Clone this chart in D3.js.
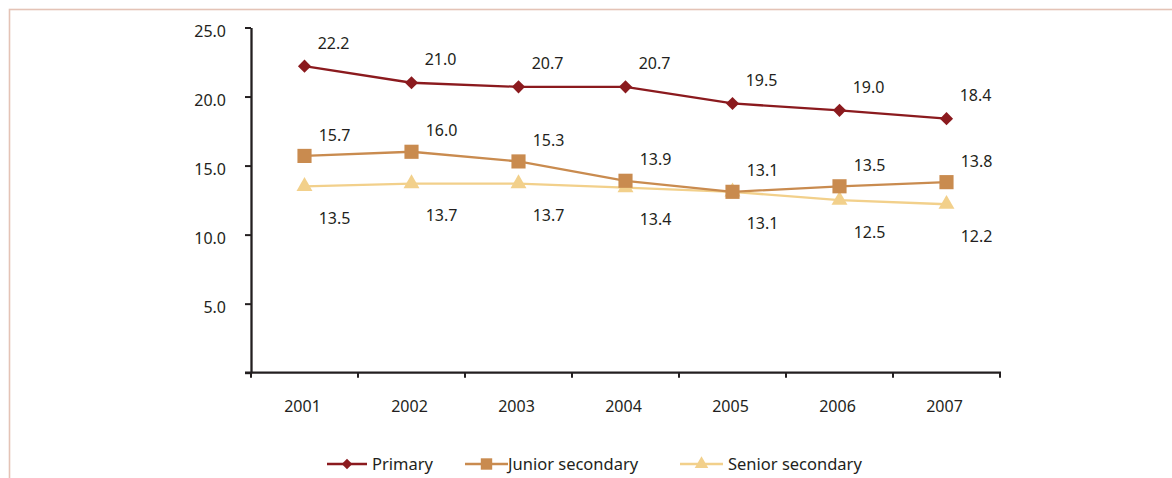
<!DOCTYPE html>
<html>
<head>
<meta charset="utf-8">
<script src="https://cdn.jsdelivr.net/npm/d3@7"></script>
<style>
  html, body { margin: 0; padding: 0; background: #fff; }
  svg { display: block; }
  text { font-family: "Noto Sans", "Open Sans", sans-serif; fill: #231f20; }
</style>
</head>
<body>
<svg id="chart" width="1172" height="478"></svg>
<script>
const years = ["2001", "2002", "2003", "2004", "2005", "2006", "2007"];
const primary = [22.2, 21.0, 20.7, 20.7, 19.5, 19.0, 18.4];
const junior = [15.7, 16.0, 15.3, 13.9, 13.1, 13.5, 13.8];
const senior = [13.5, 13.7, 13.7, 13.4, 13.1, 12.5, 12.2];
const yTicks = [0, 5, 10, 15, 20, 25];
const seriesNames = ["Primary", "Junior secondary", "Senior secondary"];

const colors = ["#8b1a1e", "#c98b4f", "#f2d08b"];
const symbols = [d3.symbolDiamond2 || d3.symbolDiamond, d3.symbolSquare, d3.symbolTriangle];
const markerSizes = [110, 200, 110];
const legendSizes = [70, 130, 80];
const labelOffsets = [[29, -23], [30, -21], [30, 32]];

const svg = d3.select("#chart");

// frame
svg.append("rect")
  .attr("x", 9.5).attr("y", 9.5)
  .attr("width", 1300).attr("height", 600)
  .attr("fill", "none")
  .attr("stroke", "#e4c3b6")
  .attr("stroke-width", 1.6);

const x = d3.scaleBand().domain(years).range([251, 1000]).padding(0);
const y = d3.scaleLinear().domain([0, 25]).range([372.7, 27.5]);

const axisColor = "#231f20";

// Y axis
const yAxis = svg.append("g")
  .attr("transform", "translate(251,0)")
  .call(d3.axisLeft(y).tickValues(yTicks).tickSize(6).tickSizeOuter(0)
    .tickFormat(d => d === 0 ? "" : d3.format(".1f")(d)));
yAxis.select(".domain").attr("stroke", axisColor).attr("stroke-width", 2.3);
yAxis.selectAll(".tick line").attr("stroke", axisColor).attr("stroke-width", 2);
yAxis.selectAll(".tick text")
  .attr("x", -25).attr("dy", "0.32em").attr("y", 4)
  .style("font-size", "16px").attr("fill", axisColor);

// X axis line
const xr = x.range();
svg.append("line")
  .attr("x1", xr[0] - 6).attr("x2", xr[1] + 1)
  .attr("y1", y(0)).attr("y2", y(0))
  .attr("stroke", axisColor).attr("stroke-width", 2.3);

// X tick marks at band boundaries
const boundaries = years.map(d => x(d)).concat([xr[1]]);
svg.append("g").selectAll("line").data(boundaries).join("line")
  .attr("x1", d => d).attr("x2", d => d)
  .attr("y1", y(0)).attr("y2", y(0) + 5)
  .attr("stroke", axisColor).attr("stroke-width", 2);

// X labels
svg.append("g").selectAll("text").data(years).join("text")
  .attr("x", d => x(d) + x.bandwidth() / 2 - 2)
  .attr("y", 406)
  .attr("dy", "0.35em")
  .attr("text-anchor", "middle")
  .style("font-size", "16px")
  .text(d => d);

const allSeries = [primary, junior, senior];
const line = d3.line()
  .x((d, i) => x(years[i]) + x.bandwidth() / 2)
  .y(d => y(d));

// draw in order senior, junior, primary so darker on top
[2, 1, 0].forEach(s => {
  svg.append("path")
    .datum(allSeries[s])
    .attr("fill", "none")
    .attr("stroke", colors[s])
    .attr("stroke-width", 2.3)
    .attr("d", line);
});
[2, 1, 0].forEach(s => {
  svg.append("g").selectAll("path").data(allSeries[s]).join("path")
    .attr("transform", (d, i) => `translate(${x(years[i]) + x.bandwidth() / 2},${y(d)})`)
    .attr("d", d3.symbol().type(symbols[s]).size(markerSizes[s]))
    .attr("fill", colors[s]);
});

// data labels
[0, 1, 2].forEach(s => {
  svg.append("g").selectAll("text").data(allSeries[s]).join("text")
    .attr("x", (d, i) => x(years[i]) + x.bandwidth() / 2 + labelOffsets[s][0])
    .attr("y", d => y(d) + labelOffsets[s][1])
    .attr("dy", "0.35em")
    .attr("text-anchor", "middle")
    .style("font-size", "16px")
    .text(d => d3.format(".1f")(d));
});

// legend
const legendItems = [
  { x1: 327, x2: 367, tx: 372 },
  { x1: 465, x2: 508, tx: 508 },
  { x1: 680, x2: 723, tx: 728 }
];
const ly = 464;
const lg = svg.append("g");
legendItems.forEach((it, s) => {
  lg.append("line")
    .attr("x1", it.x1).attr("x2", it.x2)
    .attr("y1", ly).attr("y2", ly)
    .attr("stroke", colors[s]).attr("stroke-width", 2.3);
  lg.append("path")
    .attr("transform", `translate(${(it.x1 + it.x2) / 2},${ly})`)
    .attr("d", d3.symbol().type(symbols[s]).size(legendSizes[s]))
    .attr("fill", colors[s]);
  lg.append("text")
    .attr("x", it.tx).attr("y", ly)
    .attr("dy", "0.35em")
    .style("font-size", "16.5px")
    .text(seriesNames[s]);
});
</script>
</body>
</html>
